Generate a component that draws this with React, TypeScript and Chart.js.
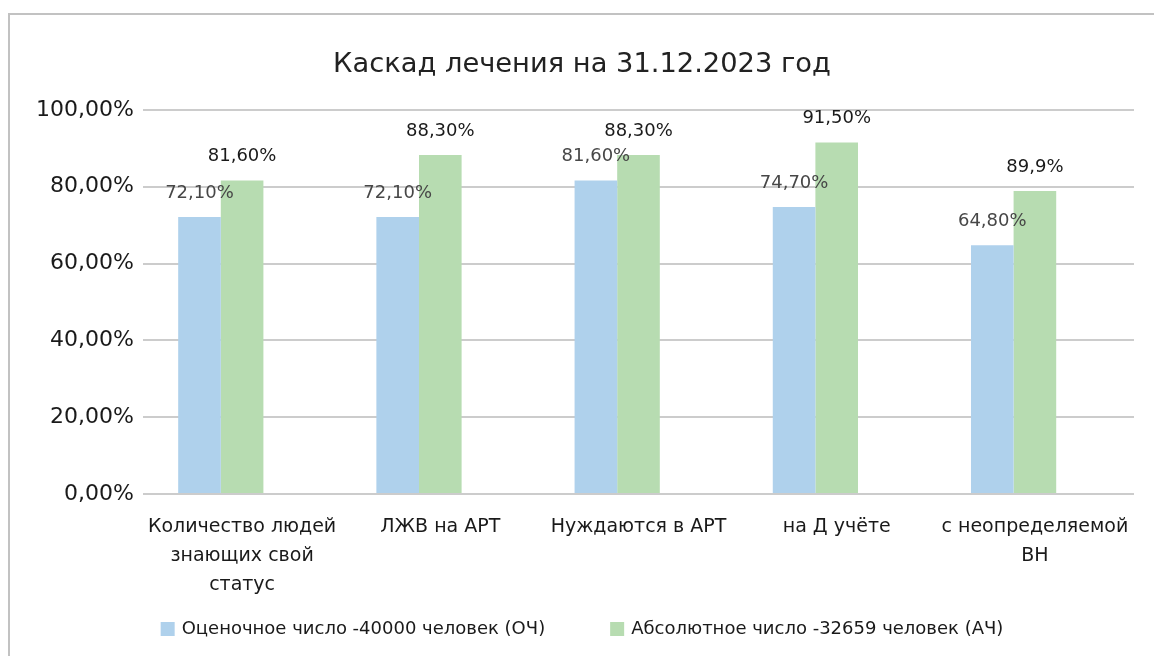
import React, { useEffect, useRef } from 'react';
import { Chart, registerables } from 'chart.js';

Chart.register(...registerables);

const TITLE = 'Каскад лечения на 31.12.2023 год';
const categories: (string | string[])[] = [
  ['Количество людей', 'знающих свой', 'статус'],
  'ЛЖВ на АРТ',
  'Нуждаются в АРТ',
  'на Д учёте',
  ['с неопределяемой', 'ВН'],
];
const seriesNames = [
  'Оценочное число -40000 человек (ОЧ)',
  'Абсолютное число -32659 человек (АЧ)',
];
const estimatedValues = [72.1, 72.1, 81.6, 74.7, 64.8];
const absoluteValues = [81.6, 88.3, 88.3, 91.5, 78.9];
const emptySeries: (number | null)[] = [null, null, null, null, null];
const estimatedLabels = ['72,10%', '72,10%', '81,60%', '74,70%', '64,80%'];
const absoluteLabels = ['81,60%', '88,30%', '88,30%', '91,50%', '89,9%'];
const yMin = 0;
const yMax = 100;
const yStep = 20;

const FONT = "'DejaVu Sans', sans-serif";
const BLUE = '#afd1ec';
const GREEN = '#b7dcb1';

const valueLabels = {
  id: 'valueLabels',
  afterDatasetsDraw(chart: any) {
    const ctx = chart.ctx;
    const sets = [
      { labels: estimatedLabels, color: '#474747' },
      { labels: absoluteLabels, color: '#1a1a1a' },
    ];
    sets.forEach((s, di) => {
      const meta = chart.getDatasetMeta(di);
      meta.data.forEach((bar: any, i: number) => {
        ctx.save();
        ctx.font = `18px ${FONT}`;
        ctx.fillStyle = s.color;
        ctx.textAlign = 'center';
        ctx.textBaseline = 'middle';
        ctx.fillText(s.labels[i], bar.x, bar.y - 24);
        ctx.restore();
      });
    });
  },
};

const bottomLegend = {
  id: 'bottomLegend',
  afterDraw(chart: any) {
    const ctx = chart.ctx;
    const items = chart.data.datasets.filter((d: any) => d.label);
    const box = 14;
    const boxGap = 7;
    const itemGap = 65;
    ctx.save();
    ctx.font = `18px ${FONT}`;
    const widths = items.map((d: any) => box + boxGap + ctx.measureText(d.label).width);
    const total = widths.reduce((a: number, b: number) => a + b, 0) + itemGap * (items.length - 1);
    const cx = (20 + chart.chartArea.right) / 2;
    const cy = chart.height - 35;
    let x = cx - total / 2;
    items.forEach((d: any, i: number) => {
      ctx.fillStyle = d.backgroundColor;
      ctx.fillRect(x, cy - box / 2, box, box);
      ctx.fillStyle = '#1a1a1a';
      ctx.textAlign = 'left';
      ctx.textBaseline = 'middle';
      ctx.fillText(d.label, x + box + boxGap, cy);
      x += widths[i] + itemGap;
    });
    ctx.restore();
  },
};

export default function App() {
  const ref = useRef<HTMLCanvasElement>(null);

  useEffect(() => {
    if (!ref.current) return;
    const chart = new Chart(ref.current, {
      type: 'bar',
      data: {
        labels: categories,
        datasets: [
          {
            label: seriesNames[0],
            data: estimatedValues,
            backgroundColor: BLUE,
            borderWidth: 0,
            categoryPercentage: 0.645,
            barPercentage: 1,
          },
          {
            label: seriesNames[1],
            data: absoluteValues,
            backgroundColor: GREEN,
            borderWidth: 0,
            categoryPercentage: 0.645,
            barPercentage: 1,
          },
          {
            label: '',
            data: emptySeries,
            backgroundColor: 'rgba(0,0,0,0)',
            borderWidth: 0,
            categoryPercentage: 0.645,
            barPercentage: 1,
          },
        ],
      },
      options: {
        responsive: false,
        animation: false,
        layout: { padding: { left: 20, right: 28, top: 0, bottom: 64.5 } },
        scales: {
          x: {
            grid: { display: false, drawTicks: false },
            border: { display: false },
            ticks: {
              font: { family: FONT, size: 19, lineHeight: 29 / 19 },
              color: '#1a1a1a',
              padding: 18.5,
              maxRotation: 0,
              autoSkip: false,
            },
            afterFit: (scale: any) => {
              scale.height = 105.5;
            },
          },
          y: {
            min: yMin,
            max: yMax,
            grid: { color: '#cccccc', lineWidth: 2, drawTicks: false },
            border: { display: false },
            ticks: {
              stepSize: yStep,
              font: { family: FONT, size: 22 },
              color: '#1a1a1a',
              padding: 9,
              callback: (v: any) => Number(v).toFixed(2).replace('.', ',') + '%',
            },
            afterFit: (scale: any) => {
              scale.width = 113;
            },
          },
        },
        plugins: {
          title: {
            display: true,
            text: TITLE,
            color: '#222222',
            font: { family: FONT, size: 27.3, weight: 'normal' },
            padding: { top: 34, bottom: 28.2 },
          },
          legend: { display: false },
          tooltip: { enabled: false },
        },
      },
      plugins: [valueLabels, bottomLegend],
    });
    return () => chart.destroy();
  }, []);

  return (
    <div style={{ width: 1154, height: 648, overflow: 'hidden' }}>
      <div
        style={{
          marginTop: 5,
          borderTop: '2px solid #c2c2c2',
          borderLeft: '2px solid #c2c2c2',
          width: 1152,
          height: 649,
        }}
      >
        <canvas ref={ref} width={1152} height={649} style={{ display: 'block' }} />
      </div>
    </div>
  );
}
